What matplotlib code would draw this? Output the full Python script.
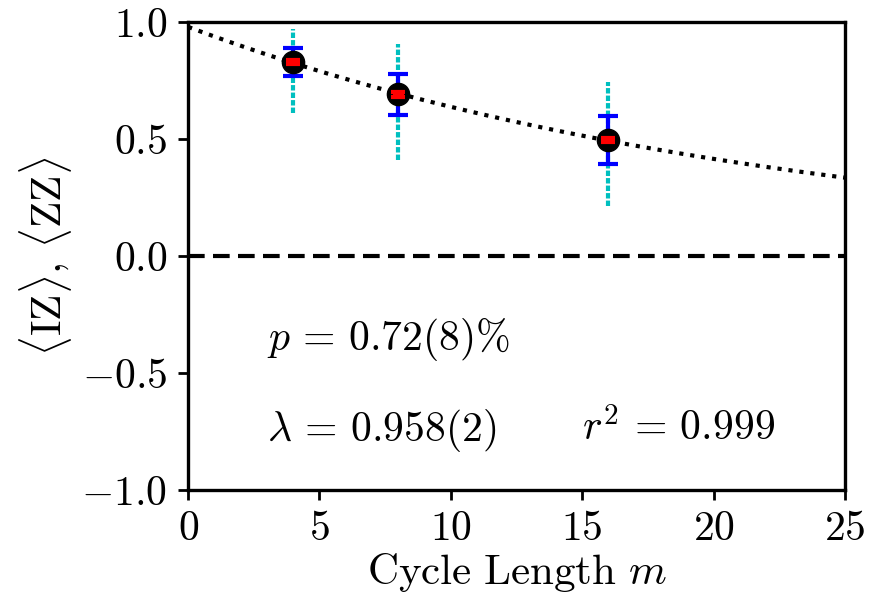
import numpy as np
import matplotlib
matplotlib.use("Agg")
import matplotlib.pyplot as plt

plt.rcParams["mathtext.fontset"] = "cm"
plt.rcParams["font.family"] = "serif"
plt.rcParams["font.serif"] = ["cmr10", "DejaVu Serif"]
plt.rcParams["axes.formatter.use_mathtext"] = True

# measured points
cycle_len = [4, 8, 16]
mean_val = [0.83, 0.692, 0.496]
err_inner = [0.059, 0.087, 0.104]

# wider (dotted cyan) spread
mean_wide = [0.79, 0.658, 0.479]
err_wide = [0.18, 0.248, 0.265]

# fit parameters
fit_amp = 0.98
fit_lambda = 0.958

fig = plt.figure(figsize=(8.71, 6.01), dpi=100)
ax = fig.add_axes([0.216, 0.185, 0.754, 0.778])

m = np.linspace(0, 25, 200)
ax.plot(m, fit_amp * fit_lambda ** m, ":", color="black", lw=3, zorder=2)
ax.axhline(0, color="black", ls="--", lw=3, dashes=(4, 2), zorder=2)

eb = ax.errorbar(cycle_len, mean_wide, yerr=err_wide, fmt="none",
                 ecolor="c", elinewidth=3, zorder=3)
eb[2][0].set_linestyle((0, (1.3, 0.5)))

ax.errorbar(cycle_len, mean_val, yerr=err_inner, fmt="o", color="black",
            ms=16, ecolor="blue", elinewidth=3, capsize=7, capthick=3, zorder=4)
ax.errorbar(cycle_len, mean_val, yerr=[0.010] * 3, fmt="none", ecolor="red",
            elinewidth=8, capsize=5, capthick=3, zorder=5)

ax.text(3, -0.40, r"$p\,=\,0.72(8)\%$", fontsize=30, va="baseline")
ax.text(3, -0.79, r"$\lambda\,=\,0.958(2)$", fontsize=30, va="baseline")
ax.text(15, -0.79, r"$r^2\,=\,0.999$", fontsize=30, va="baseline")

ax.set_xlim(0, 25)
ax.set_ylim(-1, 1)
ax.set_xticks([0, 5, 10, 15, 20, 25])
ax.set_yticks([-1, -0.5, 0, 0.5, 1])
ax.set_yticklabels([r"$-1.0$", r"$-0.5$", r"$0.0$", r"$0.5$", r"$1.0$"])
ax.set_xticklabels([r"$0$", r"$5$", r"$10$", r"$15$", r"$20$", r"$25$"])
ax.tick_params(labelsize=30, width=2, length=7, direction="out", pad=8)
for s in ax.spines.values():
    s.set_linewidth(2.4)

ax.set_xlabel(r"$\mathrm{Cycle\ Length}\ m$", fontsize=31, labelpad=2)
ax.set_ylabel(r"$\langle\mathrm{IZ}\rangle,\,\langle\mathrm{ZZ}\rangle$", fontsize=31, labelpad=5)

fig.savefig("out.png", dpi=100)
